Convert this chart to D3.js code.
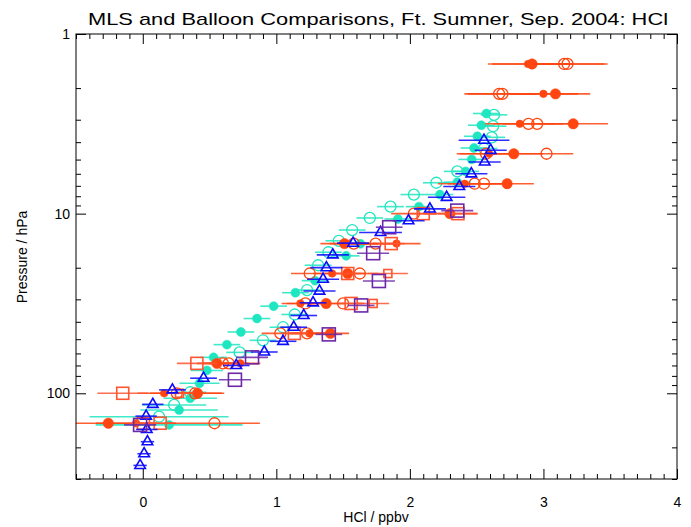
<!DOCTYPE html>
<html><head><meta charset="utf-8">
<script src="https://cdn.jsdelivr.net/npm/d3@7"></script>
<style>
body{margin:0;background:#fff;}
text{font-family:"Liberation Sans","DejaVu Sans",sans-serif;fill:#000;}
</style></head>
<body><svg id="c" width="691" height="527"></svg>
<script>
// ---- data: [HCl ppbv, pressure hPa, error ppbv] ----
const titleText = "MLS and Balloon Comparisons, Ft. Sumner, Sep. 2004: HCl";
const xLabel = "HCl / ppbv";
const yLabel = "Pressure / hPa";
const xTicks = [0, 1, 2, 3, 4];
const yTicks = [1, 10, 100];

const redFilledSmall = [[2.885,1.468,0.30],[3.00,2.154,0.26],[2.823,3.162,0.26],[2.593,4.642,0.22],[2.41,6.813,0.2],[1.90,14.68,0.18],[1.418,21.54,0.14],[1.18,31.62,0.14],[1.248,46.42,0.14],[0.73,68.13,0.15],[0.16,100,0.2],[-0.05,146.8,0.3]];
const redFilledLarge = [[2.915,1.468,0.3],[3.09,2.154,0.26],[3.223,3.162,0.26],[2.778,4.642,0.22],[2.728,6.813,0.2],[2.30,10,0.2],[1.51,14.68,0.18],[1.535,21.54,0.14],[1.373,31.62,0.14],[1.405,46.42,0.14],[0.555,68.13,0.15],[0.41,100,0.2],[-0.258,146.8,0.3]];
const redOpen = [[3.155,1.468,0.3],[3.18,1.468,0.3],[2.668,2.154,0.26],[2.693,2.154,0.26],[2.888,3.162,0.26],[2.953,3.162,0.26],[2.57,4.642,0.22],[3.023,4.642,0.2],[2.485,6.813,0.2],[2.555,6.813,0.2],[2.03,10,0.17],[1.58,14.68,0.18],[1.743,14.68,0.18],[1.25,21.54,0.14],[1.625,21.54,0.14],[1.218,31.62,0.14],[1.50,31.62,0.14],[1.03,46.42,0.14],[1.23,46.42,0.14],[0.60,68.13,0.15],[0.643,68.13,0.15],[0.255,100,0.2],[0.392,100,0.2],[0.537,146.8,0.34]];
const redSquareLarge = [[2.10,10,0.1],[2.36,10,0.15],[1.86,14.68,0.1],[1.535,21.54,0.1],[1.56,31.62,0.1],[1.135,46.42,0.1],[0.405,68.13,0.15],[-0.15,100,0.19],[0.13,146.8,0.1],[0.005,146.8,0.1]];
const redSquareSmall = [[1.835,21.54,0.15],[1.725,31.62,0.12],[0.275,100,0.1]];
const purpleSquare = [[2.355,9.62,0.12],[1.845,11.9,0.1],[1.725,16.6,0.12],[1.768,23.71,0.12],[1.635,32.43,0.1],[1.393,47,0.1],[0.818,63.1,0.12],[0.69,84.1,0.12],[-0.02,150,0.12]];
const blueTriangle = [[2.555,3.90,0.19],[2.605,4.44,0.12],[2.56,5.16,0.12],[2.46,6.00,0.12],[2.37,7.06,0.12],[2.275,8.11,0.14],[2.15,9.41,0.12],[1.99,10.95,0.12],[1.78,12.73,0.16],[1.575,14.6,0.12],[1.423,16.96,0.12],[1.375,19.98,0.12],[1.35,23.19,0.12],[1.323,26.97,0.12],[1.275,31.35,0.1],[1.205,36.9,0.1],[1.13,42.88,0.1],[1.05,51.35,0.1],[0.91,58.9,0.1],[0.70,70,0.1],[0.455,82.4,0.1],[0.222,95.7,0.1],[0.075,115.2,0.08],[0.025,134,0.08],[0.03,159,0.08],[0.035,186,0.05],[0.01,217,0.05],[-0.02,252,0.05]];
const cyanFilled = [[2.573,2.77,0.1],[2.535,3.22,0.1],[2.505,3.71,0.1],[2.48,4.31,0.1],[2.463,4.99,0.1],[2.418,5.82,0.1],[2.355,6.68,0.1],[2.225,7.83,0.1],[2.068,9.14,0.1],[1.91,10.71,0.1],[1.63,14.72,0.1],[1.523,17.18,0.1],[1.29,23.6,0.1],[1.143,27.55,0.1],[0.98,32.73,0.1],[0.855,38.36,0.1],[0.735,45.56,0.1],[0.63,53.6,0.1],[0.53,63.1,0.1],[0.48,74.6,0.12],[0.425,87.9,0.15],[0.355,106.6,0.2],[0.272,123.8,0.29],[0.197,150,0.55]];
const cyanOpen = [[2.63,2.82,0.1],[2.623,3.26,0.1],[2.613,3.76,0.1],[2.555,4.34,0.1],[2.355,5.82,0.1],[2.198,6.73,0.1],[2.03,7.83,0.1],[1.855,9.14,0.1],[1.70,10.57,0.1],[1.568,12.34,0.1],[1.468,14.16,0.1],[1.39,16.4,0.1],[1.313,19.37,0.1],[1.23,26.62,0.1],[1.138,36.42,0.1],[1.05,42.88,0.1],[0.90,50.7,0.1],[0.725,59.2,0.1],[0.355,98.7,0.12],[0.235,116.1,0.24],[0.122,135,0.52]];

// ---- layout ----
const L = 76, R = 677, T = 34, B = 479;
const svg = d3.select("#c");
const x = d3.scaleLinear().domain([-0.5, 4]).range([L, R]);
const y = d3.scaleLog().domain([1, 300]).range([T, B]);

const RED = "#ff4510", RED2 = "#ff5530", CYAN = "#1ee6c0", BLUE = "#0a0aff", PURPLE = "#6c28a8";

svg.append("defs").append("clipPath").attr("id", "clip")
  .append("rect").attr("x", L).attr("y", T).attr("width", R - L).attr("height", B - T);
const plot = svg.append("g").attr("clip-path", "url(#clip)");

function errBars(data, color, w) {
  plot.append("g").selectAll("line").data(data).join("line")
    .attr("x1", d => x(d[0] - d[2])).attr("x2", d => x(d[0] + d[2]))
    .attr("y1", d => y(d[1])).attr("y2", d => y(d[1]))
    .attr("stroke", color).attr("stroke-width", w || 1.6).attr("opacity", 0.85);
}
function circles(data, color, r, filled) {
  plot.append("g").selectAll("circle").data(data).join("circle")
    .attr("cx", d => x(d[0])).attr("cy", d => y(d[1])).attr("r", r)
    .attr("fill", filled ? color : "none").attr("stroke", color).attr("stroke-width", filled ? 0.5 : 1.3);
}
function squares(data, color, s) {
  plot.append("g").selectAll("rect").data(data).join("rect")
    .attr("x", d => x(d[0]) - s / 2).attr("y", d => y(d[1]) - s / 2)
    .attr("width", s).attr("height", s)
    .attr("fill", "none").attr("stroke", color).attr("stroke-width", 1.6);
}
const tri = d3.symbol().type(d3.symbolTriangle).size(48);
function triangles(data, color) {
  plot.append("g").selectAll("path").data(data).join("path")
    .attr("transform", d => `translate(${x(d[0])},${y(d[1])})`)
    .attr("d", tri).attr("fill", "none").attr("stroke", color).attr("stroke-width", 1.6);
}

// draw order
errBars(cyanFilled, CYAN); errBars(cyanOpen, CYAN);
circles(cyanFilled, CYAN, 4.5, true); circles(cyanOpen, CYAN, 5.5, false);
errBars(redFilledSmall, RED); errBars(redFilledLarge, RED); errBars(redOpen, RED);
circles(redOpen, RED, 5.5, false);
circles(redFilledSmall, RED, 3.8, true); circles(redFilledLarge, RED, 5.2, true);
errBars(redSquareLarge, RED2); errBars(redSquareSmall, RED2);
squares(redSquareLarge, RED2, 12); squares(redSquareSmall, RED2, 8);
errBars(blueTriangle, BLUE); triangles(blueTriangle, BLUE);
errBars(purpleSquare, PURPLE); squares(purpleSquare, PURPLE, 13);

// ---- axes ----
const xMinor = d3.range(-5, 41).map(v => v / 10).filter(v => Math.abs(v - Math.round(v)) > 1e-6);
const yMinor = [];
[1, 10, 100].forEach(d => { for (let k = 2; k <= 9; k++) if (d * k <= 300) yMinor.push(d * k); });
const styleAxis = g => { g.select(".domain").remove(); g.selectAll("line").attr("stroke", "#000").attr("stroke-width", 1); };

svg.append("g").attr("transform", `translate(0,${B})`)
  .call(d3.axisBottom(x).tickValues(xTicks).tickSize(-10).tickPadding(18).tickFormat(d3.format("d")))
  .call(styleAxis).call(g => g.selectAll("text").attr("font-size", 14).attr("font-family", "Liberation Sans"));
svg.append("g").attr("transform", `translate(0,${B})`)
  .call(d3.axisBottom(x).tickValues(xMinor).tickSize(-5).tickFormat("")).call(styleAxis);
svg.append("g").attr("transform", `translate(0,${T})`)
  .call(d3.axisTop(x).tickValues(xTicks).tickSize(-10).tickFormat("")).call(styleAxis);
svg.append("g").attr("transform", `translate(0,${T})`)
  .call(d3.axisTop(x).tickValues(xMinor).tickSize(-5).tickFormat("")).call(styleAxis);

svg.append("g").attr("transform", `translate(${L},0)`)
  .call(d3.axisLeft(y).tickValues(yTicks).tickSize(-10).tickPadding(6).tickFormat(d3.format("d")))
  .call(styleAxis).call(g => g.selectAll("text").attr("font-size", 14).attr("font-family", "Liberation Sans"));
svg.append("g").attr("transform", `translate(${L},0)`)
  .call(d3.axisLeft(y).tickValues(yMinor).tickSize(-5).tickFormat("")).call(styleAxis);
svg.append("g").attr("transform", `translate(${R},0)`)
  .call(d3.axisRight(y).tickValues(yTicks).tickSize(-10).tickFormat("")).call(styleAxis);
svg.append("g").attr("transform", `translate(${R},0)`)
  .call(d3.axisRight(y).tickValues(yMinor).tickSize(-5).tickFormat("")).call(styleAxis);

svg.append("rect").attr("x", L).attr("y", T).attr("width", R - L).attr("height", B - T)
  .attr("fill", "none").attr("stroke", "#000").attr("stroke-width", 1);

// ---- titles ----
svg.append("text").attr("x", 378).attr("y", 25).attr("text-anchor", "middle")
  .attr("font-size", 17).attr("textLength", 580).attr("lengthAdjust", "spacingAndGlyphs").text(titleText);
svg.append("text").attr("x", 376).attr("y", 522).attr("text-anchor", "middle")
  .attr("font-size", 14).text(xLabel);
svg.append("text").attr("transform", "translate(27,257) rotate(-90)").attr("text-anchor", "middle")
  .attr("font-size", 14).text(yLabel);
</script></body></html>
